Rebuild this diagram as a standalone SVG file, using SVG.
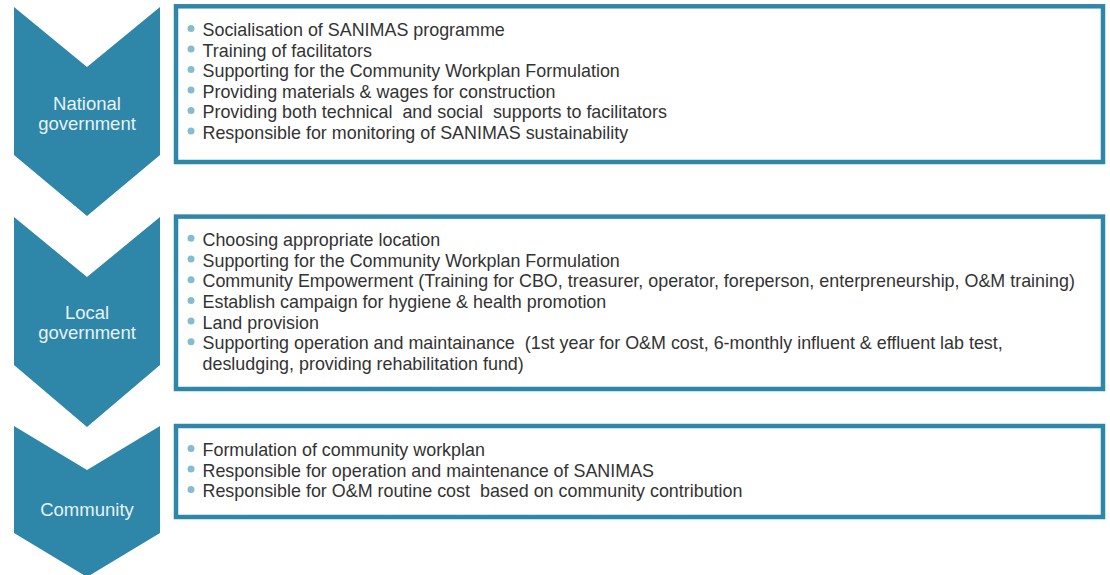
<svg xmlns="http://www.w3.org/2000/svg" width="1110" height="575" viewBox="0 0 1110 575">
<style>
.chev{fill:#2e86a9}
.box{fill:#fff;stroke:#2e86a9;stroke-width:4.5}
.lab{font-family:"Liberation Sans",Arial,sans-serif;font-size:18.5px;fill:#e8f2f7;text-anchor:middle}
.item{font-family:"Liberation Sans",Arial,sans-serif;font-size:17.9px;fill:#333}
.dot{fill:#86bcd2}
</style>
<rect width="1110" height="575" fill="#fff"/>
<g id="national">
<polygon class="chev" points="14,7 87,67 160,7 160,155 87,216 14,155"/>
<text class="lab"><tspan x="87" y="109.5">National</tspan><tspan x="87" y="130.3">government</tspan></text>
<rect class="box" x="176" y="6.3" width="927" height="155.7"/>
<g class="dot">
<circle cx="191" cy="28.5" r="3.5"/><circle cx="191" cy="49" r="3.5"/><circle cx="191" cy="69.5" r="3.5"/><circle cx="191" cy="90" r="3.5"/><circle cx="191" cy="110.5" r="3.5"/><circle cx="191" cy="131" r="3.5"/>
</g>
<text class="item" xml:space="preserve"><tspan x="202.5" y="36">Socialisation of SANIMAS programme</tspan><tspan x="202.5" y="56.5">Training of facilitators</tspan><tspan x="202.5" y="77">Supporting for the Community Workplan Formulation</tspan><tspan x="202.5" y="97.5">Providing materials &amp; wages for construction</tspan><tspan x="202.5" y="118">Providing both technical  and social  supports to facilitators</tspan><tspan x="202.5" y="138.5">Responsible for monitoring of SANIMAS sustainability</tspan></text>
</g>
<g id="local">
<polygon class="chev" points="14,217 87,277 160,217 160,365 87,427 14,365"/>
<text class="lab"><tspan x="87" y="318.5">Local</tspan><tspan x="87" y="339.3">government</tspan></text>
<rect class="box" x="176" y="216.6" width="927" height="172.4"/>
<g class="dot">
<circle cx="191" cy="238.3" r="3.5"/><circle cx="191" cy="259" r="3.5"/><circle cx="191" cy="279.7" r="3.5"/><circle cx="191" cy="300.4" r="3.5"/><circle cx="191" cy="321.1" r="3.5"/><circle cx="191" cy="341.8" r="3.5"/>
</g>
<text class="item" xml:space="preserve"><tspan x="202.5" y="245.8">Choosing appropriate location</tspan><tspan x="202.5" y="266.5">Supporting for the Community Workplan Formulation</tspan><tspan x="202.5" y="287.2">Community Empowerment (Training for CBO, treasurer, operator, foreperson, enterpreneurship, O&amp;M training)</tspan><tspan x="202.5" y="307.9">Establish campaign for hygiene &amp; health promotion</tspan><tspan x="202.5" y="328.6">Land provision</tspan><tspan x="202.5" y="349.3">Supporting operation and maintainance  (1st year for O&amp;M cost, 6-monthly influent &amp; effluent lab test,</tspan><tspan x="202.5" y="370">desludging, providing rehabilitation fund)</tspan></text>
</g>
<g id="community">
<polygon class="chev" points="14,426 87,470 160,426 160,533 87,577 14,533"/>
<text class="lab" x="87" y="516">Community</text>
<rect class="box" x="176" y="426" width="927" height="91"/>
<g class="dot">
<circle cx="191" cy="448.5" r="3.5"/><circle cx="191" cy="469" r="3.5"/><circle cx="191" cy="489.5" r="3.5"/>
</g>
<text class="item" xml:space="preserve"><tspan x="202.5" y="456">Formulation of community workplan</tspan><tspan x="202.5" y="476.5">Responsible for operation and maintenance of SANIMAS</tspan><tspan x="202.5" y="497">Responsible for O&amp;M routine cost  based on community contribution</tspan></text>
</g>
<g id="connectors"/>
</svg>
